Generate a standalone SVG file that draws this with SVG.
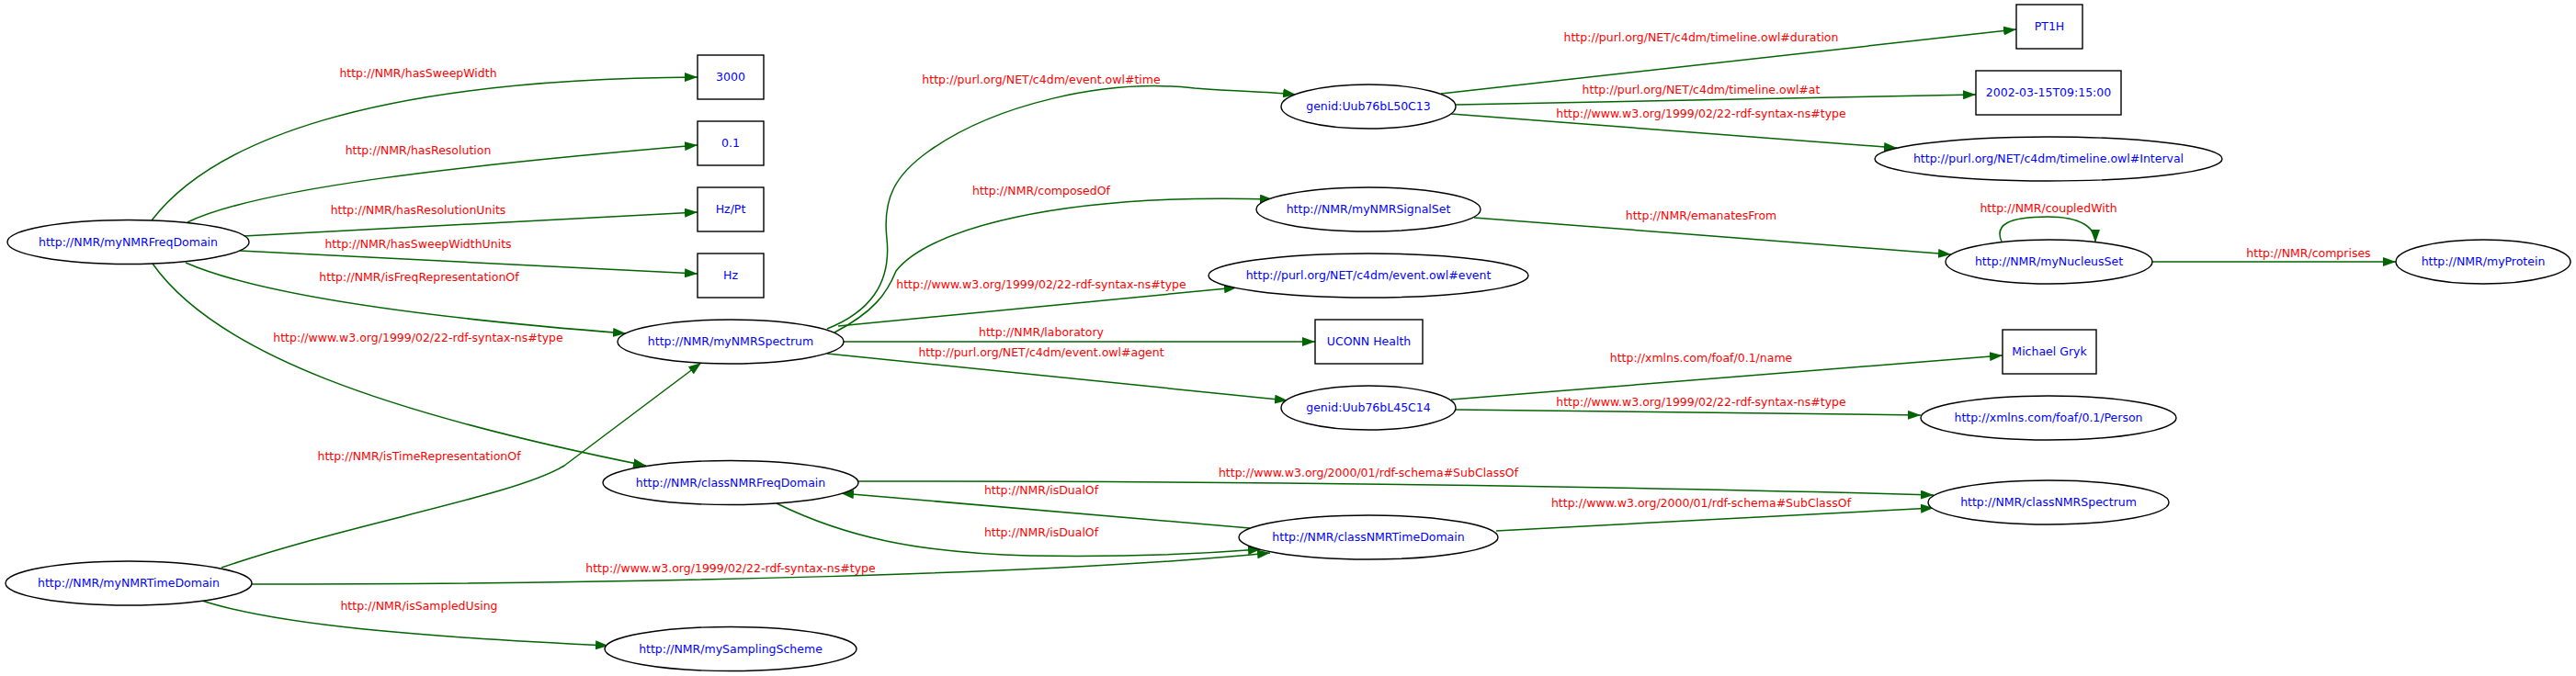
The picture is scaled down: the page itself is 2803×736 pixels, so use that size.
<svg xmlns="http://www.w3.org/2000/svg" width="2803" height="736" viewBox="0 0 2803 736">
<style>
.n ellipse,.n rect{fill:#fff;stroke:#000;stroke-width:1.4}
.n text{font-family:"DejaVu Sans","Liberation Sans",sans-serif;font-size:12.5px;fill:#0000ff;text-anchor:middle}
.e path{fill:none;stroke:#006400;stroke-width:1.5;marker-end:url(#ah)}
.lb text{font-family:"DejaVu Sans","Liberation Sans",sans-serif;font-size:12.5px;fill:#ff0000;text-anchor:middle}
</style>
<defs>
<marker id="ah" markerUnits="userSpaceOnUse" viewBox="0 0 14 10" markerWidth="14" markerHeight="10" refX="14" refY="5" orient="auto">
<path d="M0,0 L14,5 L0,10 z" fill="#006400"/>
</marker>
</defs>
<rect width="2803" height="736" fill="#fff"/>
<g id="connectors" class="e">
<path d="M165,240 C230,155 400,86 759,84"/>
<path d="M204,242 C280,205 500,180 759,158"/>
<path d="M265,257 L759,231"/>
<path d="M261,273 L759,298"/>
<path d="M202,286 C280,320 450,345 681,363"/>
<path d="M166,287 C235,385 420,450 703,507"/>
<path d="M241,618 C380,570 560,540 614,507 L763,395"/>
<path d="M274,636 C700,636 1150,625 1382,602"/>
<path d="M220,654 C300,680 450,693 662,703"/>
<path d="M900,358 C945,340 970,310 965,260 C960,215 975,190 1010,165 C1080,115 1200,85 1300,96 C1350,100 1385,100 1410,103"/>
<path d="M908,362 C950,340 965,320 975,295 C1010,250 1150,210 1385,217"/>
<path d="M912,355 L1346,313"/>
<path d="M917,372 L1431,372"/>
<path d="M900,385 L1401,436"/>
<path d="M1568,102 L2194,32"/>
<path d="M1584,114 L2150,103"/>
<path d="M1579,124 L2064,161"/>
<path d="M1604,237 L2123,277"/>
<path d="M2178,263 C2170,245 2185,236 2228,236 C2265,236 2280,248 2280,264"/>
<path d="M2342,285 L2607,285"/>
<path d="M1579,435 L2179,387"/>
<path d="M1584,446 L2090,452"/>
<path d="M933,524 C1300,523 1800,530 2104,539"/>
<path d="M1360,575 L915,537"/>
<path d="M845,548 C920,585 1000,602 1120,605 C1230,607 1320,602 1372,598"/>
<path d="M1628,578 L2104,553"/>
</g>
<g id="labels" class="lb">
<text x="455" y="84">http://NMR/hasSweepWidth</text>
<text x="455" y="168">http://NMR/hasResolution</text>
<text x="455" y="233">http://NMR/hasResolutionUnits</text>
<text x="455" y="269.5">http://NMR/hasSweepWidthUnits</text>
<text x="456" y="306">http://NMR/isFreqRepresentationOf</text>
<text x="455" y="372">http://www.w3.org/1999/02/22-rdf-syntax-ns#type</text>
<text x="456" y="501">http://NMR/isTimeRepresentationOf</text>
<text x="456" y="664">http://NMR/isSampledUsing</text>
<text x="795" y="623">http://www.w3.org/1999/02/22-rdf-syntax-ns#type</text>
<text x="1133" y="90.5">http://purl.org/NET/c4dm/event.owl#time</text>
<text x="1133" y="212">http://NMR/composedOf</text>
<text x="1133" y="314">http://www.w3.org/1999/02/22-rdf-syntax-ns#type</text>
<text x="1133" y="366">http://NMR/laboratory</text>
<text x="1133" y="388">http://purl.org/NET/c4dm/event.owl#agent</text>
<text x="1489" y="519">http://www.w3.org/2000/01/rdf-schema#SubClassOf</text>
<text x="1133" y="537.5">http://NMR/isDualOf</text>
<text x="1133" y="583.5">http://NMR/isDualOf</text>
<text x="1851" y="45">http://purl.org/NET/c4dm/timeline.owl#duration</text>
<text x="1851" y="102">http://purl.org/NET/c4dm/timeline.owl#at</text>
<text x="1851" y="127.5">http://www.w3.org/1999/02/22-rdf-syntax-ns#type</text>
<text x="1851" y="238.5">http://NMR/emanatesFrom</text>
<text x="1851" y="393.5">http://xmlns.com/foaf/0.1/name</text>
<text x="1851" y="441.5">http://www.w3.org/1999/02/22-rdf-syntax-ns#type</text>
<text x="1851" y="552">http://www.w3.org/2000/01/rdf-schema#SubClassOf</text>
<text x="2229" y="231">http://NMR/coupledWith</text>
<text x="2512" y="280">http://NMR/comprises</text>
</g>
<g id="n-freqdomain" class="n"><ellipse cx="139.5" cy="263.5" rx="131.5" ry="24"/><text x="139.5" y="267.5">http://NMR/myNMRFreqDomain</text></g>
<g id="n-timedomain" class="n"><ellipse cx="140" cy="635" rx="134" ry="24"/><text x="140" y="639">http://NMR/myNMRTimeDomain</text></g>
<g id="n-3000" class="n"><rect x="759" y="60" width="72" height="48"/><text x="795" y="88">3000</text></g>
<g id="n-01" class="n"><rect x="759" y="132" width="72" height="48"/><text x="795" y="160">0.1</text></g>
<g id="n-hzpt" class="n"><rect x="759" y="204" width="72" height="48"/><text x="795" y="232">Hz/Pt</text></g>
<g id="n-hz" class="n"><rect x="759" y="276" width="72" height="48"/><text x="795" y="304">Hz</text></g>
<g id="n-spectrum" class="n"><ellipse cx="795" cy="372" rx="123" ry="24"/><text x="795" y="376">http://NMR/myNMRSpectrum</text></g>
<g id="n-classfreq" class="n"><ellipse cx="795" cy="525.5" rx="139" ry="24"/><text x="795" y="529.5">http://NMR/classNMRFreqDomain</text></g>
<g id="n-sampling" class="n"><ellipse cx="795" cy="706.5" rx="137" ry="24"/><text x="795" y="710.5">http://NMR/mySamplingScheme</text></g>
<g id="n-genid50" class="n"><ellipse cx="1489" cy="116" rx="95" ry="24"/><text x="1489" y="120">genid:Uub76bL50C13</text></g>
<g id="n-signalset" class="n"><ellipse cx="1489" cy="228" rx="122" ry="24"/><text x="1489" y="232">http://NMR/myNMRSignalSet</text></g>
<g id="n-event" class="n"><ellipse cx="1489" cy="300" rx="174" ry="24"/><text x="1489" y="304">http://purl.org/NET/c4dm/event.owl#event</text></g>
<g id="n-uconn" class="n"><rect x="1431" y="348" width="117" height="48"/><text x="1489.5" y="376">UCONN Health</text></g>
<g id="n-genid45" class="n"><ellipse cx="1489" cy="444" rx="95" ry="24"/><text x="1489" y="448">genid:Uub76bL45C14</text></g>
<g id="n-classtime" class="n"><ellipse cx="1489" cy="585" rx="141" ry="24"/><text x="1489" y="589">http://NMR/classNMRTimeDomain</text></g>
<g id="n-pt1h" class="n"><rect x="2194" y="5" width="72" height="48"/><text x="2230" y="33">PT1H</text></g>
<g id="n-date" class="n"><rect x="2150" y="77" width="158" height="48"/><text x="2229" y="105">2002-03-15T09:15:00</text></g>
<g id="n-interval" class="n"><ellipse cx="2229" cy="173" rx="189" ry="24"/><text x="2229" y="177">http://purl.org/NET/c4dm/timeline.owl#Interval</text></g>
<g id="n-nucleus" class="n"><ellipse cx="2229.5" cy="285" rx="112.5" ry="24"/><text x="2229.5" y="289">http://NMR/myNucleusSet</text></g>
<g id="n-protein" class="n"><ellipse cx="2702" cy="285" rx="95" ry="24"/><text x="2702" y="289">http://NMR/myProtein</text></g>
<g id="n-gryk" class="n"><rect x="2179" y="359" width="102" height="48"/><text x="2230" y="387">Michael Gryk</text></g>
<g id="n-person" class="n"><ellipse cx="2229" cy="455" rx="139" ry="24"/><text x="2229" y="459">http://xmlns.com/foaf/0.1/Person</text></g>
<g id="n-classspectrum" class="n"><ellipse cx="2229" cy="547" rx="131" ry="24"/><text x="2229" y="551">http://NMR/classNMRSpectrum</text></g>
</svg>
